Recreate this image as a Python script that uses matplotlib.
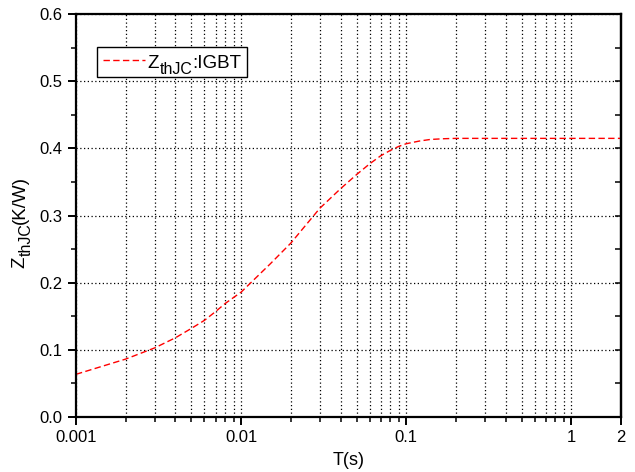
import matplotlib
matplotlib.use("Agg")
import matplotlib.pyplot as plt
from matplotlib.ticker import FixedLocator, LogLocator, NullFormatter, MultipleLocator, FormatStrFormatter

plt.rcParams['font.family'] = ['Liberation Sans', 'DejaVu Sans']

# Data
t_s = [0.001, 0.002, 0.003, 0.004, 0.005, 0.006, 0.007, 0.008, 0.009, 0.01,
       0.015, 0.02, 0.03, 0.04, 0.05, 0.06, 0.07, 0.08, 0.09, 0.1, 0.12, 0.14,
       0.17, 0.2, 0.3, 0.5, 1.0, 2.0]
zth = [0.0636, 0.0863, 0.103, 0.118, 0.132, 0.144, 0.157, 0.169, 0.178, 0.186,
       0.228, 0.259, 0.311, 0.340, 0.361, 0.377, 0.389, 0.397, 0.403, 0.407,
       0.411, 0.4134, 0.4145, 0.415, 0.415, 0.415, 0.415, 0.415]
xticks = [0.001, 0.01, 0.1, 1, 2]
xticklabels = ['0.001', '0.01', '0.1', '1', '2']
label_main, label_sub, label_tail = 'Z', 'thJC', ':IGBT'
ylabel_main, ylabel_sub, ylabel_tail = 'Z', 'thJC', '(K/W)'
xlabel = 'T(s)'

fig = plt.figure(figsize=(6.35, 4.72), dpi=100)
ax = fig.add_axes([0.1197, 0.1165, 0.8583, 0.8535])

line, = ax.plot(t_s, zth, color='#ff0000', linestyle=(0, (4.6, 2.4)), linewidth=1.0)

ax.set_xscale('log')
ax.set_xlim(0.001, 2)
ax.set_ylim(0, 0.6)

ax.xaxis.set_major_locator(FixedLocator(xticks))
ax.set_xticklabels(xticklabels)
ax.xaxis.set_minor_locator(LogLocator(base=10, subs=range(2, 10), numticks=20))
ax.xaxis.set_minor_formatter(NullFormatter())
ax.yaxis.set_major_locator(MultipleLocator(0.1))
ax.yaxis.set_minor_locator(MultipleLocator(0.05))
ax.yaxis.set_major_formatter(FormatStrFormatter('%.1f'))

ax.grid(True, which='major', axis='both', color='black', linestyle=(0, (1, 2)), linewidth=0.9)
ax.grid(True, which='minor', axis='x', color='black', linestyle=(0, (1, 2)), linewidth=0.9)

ax.tick_params(axis='both', which='major', direction='out', length=6, width=1.4,
               labelsize=12, colors='black')
ax.tick_params(axis='both', which='minor', direction='out', length=3.5, width=1.1)
for spine in ax.spines.values():
    spine.set_linewidth(1.6)

# right-side ticks pointing inward
sec = ax.secondary_yaxis('right')
sec.yaxis.set_major_locator(MultipleLocator(0.1))
sec.yaxis.set_minor_locator(MultipleLocator(0.05))
sec.tick_params(axis='y', which='both', direction='in', length=4, width=1.1, labelright=False)
sec.spines['right'].set_linewidth(1.6)

ax.set_xlabel(xlabel, fontsize=13, labelpad=5)

# y label with large subscript
y1 = ax.annotate(ylabel_main, xy=(-0.118, 0.37), xycoords='axes fraction', rotation=90,
                 ha='left', va='bottom', fontsize=13.5)
y2 = ax.annotate(ylabel_sub, xy=(1, 1), xycoords=y1, xytext=(3.5, 0), textcoords='offset points',
                 rotation=90, ha='right', va='bottom', fontsize=11.5)
y3 = ax.annotate(ylabel_tail, xy=(1, 1), xycoords=(y1, y2), rotation=90,
                 ha='right', va='bottom', fontsize=13.5)

# legend (text drawn with a large subscript over a hidden placeholder)
leg = ax.legend([line], [label_main + label_sub + label_tail], loc='upper left',
                bbox_to_anchor=(0.0385, 0.918), fontsize=12.7,
                frameon=True, fancybox=False, edgecolor='black', framealpha=1,
                handlelength=2.35, handletextpad=0.17, borderpad=0.36,
                borderaxespad=0)
leg.get_frame().set_linewidth(1.0)
leg.set_zorder(5)
ph = leg.get_texts()[0]
ph.set_alpha(0)
l1 = ax.annotate(label_main, xy=(0, 0), xycoords=ph, xytext=(0, -1.2), textcoords='offset points',
                 ha='left', va='bottom', fontsize=13.5, zorder=10)
l2 = ax.annotate(label_sub, xy=(1, 0), xycoords=l1, xytext=(0, -3.5), textcoords='offset points',
                 ha='left', va='bottom', fontsize=11.5, zorder=11)
l3 = ax.annotate(label_tail, xy=(1, 0), xycoords=(l2, l1), ha='left', va='bottom', fontsize=13.5,
                 zorder=12)

fig.savefig('out.png', dpi=100)
